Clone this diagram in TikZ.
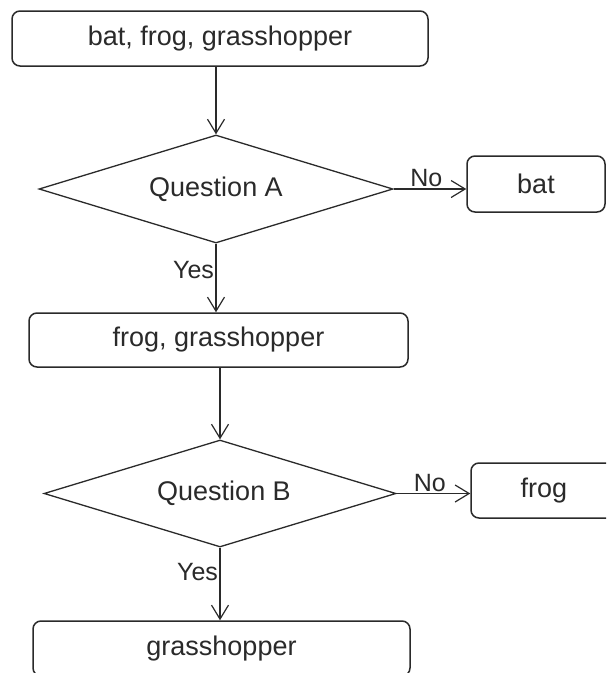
\documentclass[tikz,border=0pt]{standalone}
\usepackage{fontspec}
\setmainfont{Liberation Sans}
\usetikzlibrary{shapes.geometric,arrows.meta}
\definecolor{ink}{HTML}{2A2A2A}
\tikzset{
  boxnode/.style={draw=ink, line width=1.5pt, rounded corners=8pt, inner sep=0pt, text=ink, font=\fontsize{27}{32}\selectfont},
  decnode/.style={draw=ink, line width=1.3pt, diamond, aspect=3.3, inner sep=0pt, text=ink, font=\fontsize{27}{32}\selectfont},
  conn/.style={draw=ink, line width=1.2pt, -{Straight Barb[length=14pt, width=17pt, line width=1.2pt]}},
  lbl/.style={text=ink, font=\fontsize{25}{30}\selectfont, inner sep=1.5pt}
}
\begin{document}
\begin{tikzpicture}[x=1pt,y=-1pt]
\clip (0,0) rectangle (606,673);
\fill[white] (0,0) rectangle (606,673);
\node[boxnode, minimum width=416pt, minimum height=55pt] (top) at (220,38.5) {bat, frog, grasshopper};
\node[decnode, minimum width=354pt, minimum height=108pt] (A) at (216,189) {Question A};
\node[boxnode, minimum width=138pt, minimum height=56pt] (bat) at (536,184) {bat};
\node[boxnode, minimum width=379pt, minimum height=54pt] (fg) at (218.5,340) {frog, grasshopper};
\node[decnode, minimum width=352pt, minimum height=107pt] (B) at (220,493.5) {};
\node[text=ink, font=\fontsize{27}{32}\selectfont] (Btxt) at (224,493.5) {Question B};
\node[boxnode, minimum width=146pt, minimum height=55pt] (frog) at (544,490.5) {frog};
\node[boxnode, minimum width=377pt, minimum height=55pt] (gh) at (221.5,648.5) {grasshopper};
\draw[conn] (top.south -| A.north) -- (A.north);
\draw[conn] (A.east) -- (A.east -| bat.west) node[lbl, pos=0.45, anchor=south] {No};
\draw[conn] (A.south) -- (A.south |- fg.north) node[lbl, pos=0.39, anchor=east] {Yes};
\draw[conn] (fg.south -| B.north) -- (B.north);
\draw[conn] (B.east) -- (B.east -| frog.west) node[lbl, pos=0.45, anchor=south] {No};
\draw[conn] (B.south) -- (B.south |- gh.north) node[lbl, pos=0.34, anchor=east] {Yes};
\end{tikzpicture}
\end{document}
